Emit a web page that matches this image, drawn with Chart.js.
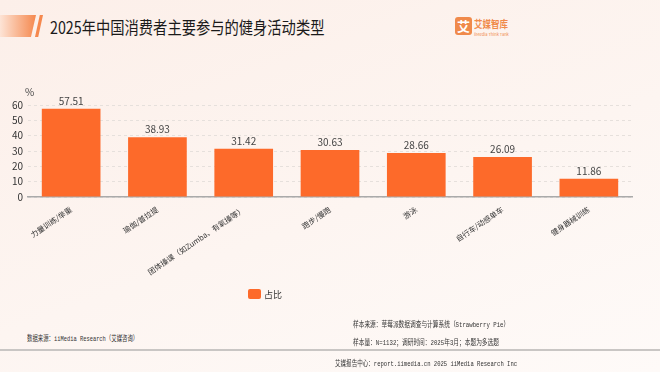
<!DOCTYPE html>
<html>
<head>
<meta charset="utf-8">
<script src="https://cdn.jsdelivr.net/npm/chart.js@4"></script>
<style>
  body { margin: 0; }
  #page {
    position: relative; width: 660px; height: 372px; overflow: hidden;
    background: linear-gradient(160deg, #fcefe9 0%, #fdf5f1 55%, #fefaf8 100%);
    font-family: "Noto Sans CJK SC", "Noto Sans", sans-serif;
  }
  .bar1 { position: absolute; left: 0; top: 15px; width: 36px; height: 22px;
    background: linear-gradient(90deg, #fde4d6, #f5884e);
    clip-path: polygon(0 0, 100% 0, 86% 100%, 0 100%); }
  .bar2 { position: absolute; left: 35px; top: 15px; width: 8px; height: 22px;
    background: #f5884e; clip-path: polygon(60% 0, 100% 0, 40% 100%, 0 100%); }
  #title { position: absolute; left: 50px; top: 14px; font-size: 17px; color: #1a1a1a;
    white-space: nowrap; transform-origin: 0 0; transform: scaleX(0.84); }
  .logo { position: absolute; left: 455px; top: 17px; width: 17px; height: 18px;
    background: #f08a4b; border-radius: 3px; color: #fff; font-size: 13px;
    text-align: center; line-height: 18px; font-weight: bold; }
  .logot { position: absolute; left: 474px; top: 16px; font-size: 10px; color: #f08a4b; font-weight: bold;
    transform-origin: 0 0; transform: scaleX(0.85); white-space: nowrap; }
  .logos { position: absolute; left: 474px; top: 31px; font-size: 4px; color: #f08a4b; white-space: nowrap; }
  #wrap { position: absolute; left: 0; top: 80px; width: 660px; height: 240px; }
  #legend { position: absolute; left: 248px; top: 288px; font-size: 9px; color: #333; }
  #legend i { display: inline-block; width: 13px; height: 10px; background: #fd6a2a;
    border-radius: 2px; vertical-align: -1px; margin-right: 3px; }
  .foot { position: absolute; font-size: 7.5px; color: #333; white-space: nowrap;
    font-family: "Liberation Mono", "Noto Sans CJK SC", monospace; transform-origin: 0 0; transform: scaleX(0.76); }
  .sep { position: absolute; left: 0; top: 349px; width: 660px; height: 2px; background: #c9c6c4; }
</style>
</head>
<body>
<div id="page">
  <div class="bar1"></div><div class="bar2"></div>
  <div id="title">2025年中国消费者主要参与的健身活动类型</div>
  <div class="logo">艾</div>
  <div class="logot">艾媒智库</div>
  <div class="logos">iiMedia Think Tank</div>
  <div id="wrap"><canvas id="chart"></canvas></div>
  <div id="legend"><i></i>占比</div>
  <div class="foot" style="left:27px;top:332px;transform:scaleX(0.72);">数据来源：iiMedia Research（艾媒咨询）</div>
  <div class="foot" style="left:353px;top:318px;">样本来源：草莓派数据调查与计算系统（Strawberry Pie）</div>
  <div class="foot" style="left:353px;top:336px;">样本量：N=1132；调研时间：2025年3月；本题为多选题</div>
  <div class="sep"></div>
  <div class="foot" style="left:335px;top:357px;transform:scaleX(0.74);">艾媒报告中心：report.iimedia.cn  2025 iiMedia Research Inc</div>
</div>
<script>
const categories = ['力量训练/举重', '瑜伽/普拉提', '团体操课（如Zumba、有氧操等）', '跑步/慢跑', '游泳', '自行车/动感单车', '健身器械训练'];
const shares = [57.51, 38.93, 31.42, 30.63, 28.66, 26.09, 11.86];
const yTicks = [0, 10, 20, 30, 40, 50, 60];

// value labels above bars + the % unit
const barLabels = {
  id: 'barLabels',
  afterDatasetsDraw(chart) {
    const ctx = chart.ctx;
    const meta = chart.getDatasetMeta(0);
    ctx.save();
    ctx.font = '10px "Noto Sans CJK SC", sans-serif';
    ctx.fillStyle = '#444';
    ctx.textAlign = 'center';
    ctx.textBaseline = 'bottom';
    meta.data.forEach((bar, i) => {
      ctx.fillText(shares[i].toFixed(2), bar.x, bar.y - 3);
    });
    ctx.textAlign = 'left';
    ctx.fillText('%', chart.chartArea.left - 3, chart.chartArea.top - 8);
    ctx.restore();
  }
};

new Chart(document.getElementById('chart'), {
  type: 'bar',
  data: {
    labels: categories,
    datasets: [{
      label: '占比',
      data: shares,
      backgroundColor: '#fd6a2a',
      categoryPercentage: 0.68,
      barPercentage: 1
    }]
  },
  options: {
    responsive: true,
    maintainAspectRatio: false,
    animation: false,
    layout: { padding: { top: 25, right: 28, left: 0, bottom: 0 } },
    plugins: { legend: { display: false }, tooltip: { enabled: false } },
    scales: {
      x: {
        grid: { display: false },
        border: { color: '#aaa', width: 1.5 },
        ticks: {
          minRotation: 34, maxRotation: 34, padding: 0,
          color: '#333', font: { size: 7.5, family: '"Noto Sans CJK SC"' }
        },
        afterFit(scale) { scale.height = 123; }
      },
      y: {
        min: 0, max: 60,
        afterBuildTicks(scale) { scale.ticks = yTicks.map(v => ({ value: v })); },
        grid: { color: '#e6e0dc', borderDash: [3, 3], drawTicks: false },
        border: { display: false, dash: [3, 3] },
        ticks: { padding: 5, color: '#333', font: { size: 10, family: '"Noto Sans CJK SC"' } },
        afterFit(scale) { scale.width = 28; }
      }
    }
  },
  plugins: [barLabels]
});
</script>
</body>
</html>
